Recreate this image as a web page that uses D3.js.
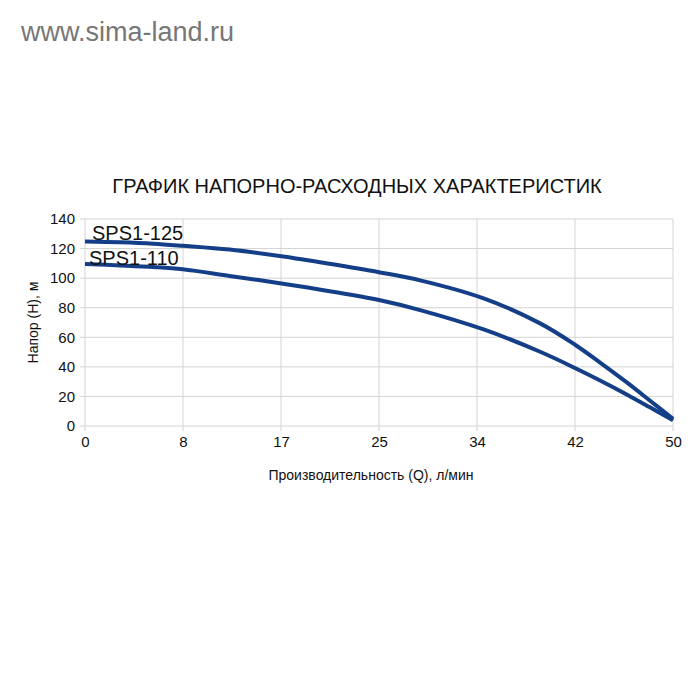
<!DOCTYPE html>
<html><head><meta charset="utf-8">
<script src="https://cdn.jsdelivr.net/npm/d3@7"></script>
<style>body{margin:0;background:#fff}svg{display:block}</style>
</head><body>
<script>
const flow   = [0, 3, 5.8, 8.3, 12.3, 16.7, 20.8, 25, 28.5, 33.9, 38.7, 41.7, 43.8, 46.1, 48, 50];
const sps125 = [124.7, 124.2, 123.3, 121.9, 119.3, 114.8, 109.7, 104, 98.5, 86.3, 69.4, 54.8, 42.9, 29.3, 17.4, 4.8];
const sps110 = [109.6, 108.6, 107.5, 106, 101.5, 96.4, 91.2, 85.2, 78.4, 65.3, 50.2, 39.1, 30.8, 21.2, 12.8, 3.8];
const seriesNames = ["SPS1-125", "SPS1-110"];
const xTickLabels = ["0","8","17","25","34","42","50"];
const yTicks = [0,20,40,60,80,100,120,140];

const W=700,H=700;
const svg=d3.select("body").append("svg").attr("width",W).attr("height",H);
const L=85,R=673,T=219,B=426;
const x=d3.scaleLinear().domain([0,50]).range([L,R]);
const y=d3.scaleLinear().domain([0,140]).range([B,T]);
const font="Liberation Sans, Arial, sans-serif";

svg.append("text").attr("x",21).attr("y",41).attr("font-family",font).attr("font-size",27)
  .attr("fill","#777").text("www.sima-land.ru");
svg.append("text").attr("x",357).attr("y",193).attr("text-anchor","middle").attr("font-family",font)
  .attr("font-size",20).attr("fill","#111").text("ГРАФИК НАПОРНО-РАСХОДНЫХ ХАРАКТЕРИСТИК");

const xTickVals = xTickLabels.map((d,i)=>i*50/(xTickLabels.length-1));
const g=svg.append("g");
g.selectAll("line.h").data(yTicks).join("line").attr("x1",L-5).attr("x2",R)
  .attr("y1",d=>y(d)).attr("y2",d=>y(d)).attr("stroke","#d3d3d3").attr("stroke-width",1);
g.selectAll("line.v").data(xTickVals).join("line").attr("x1",d=>x(d)).attr("x2",d=>x(d))
  .attr("y1",T).attr("y2",B+5).attr("stroke","#d3d3d3").attr("stroke-width",1);

const xAxis=d3.axisBottom(x).tickValues(xTickVals).tickFormat((d,i)=>xTickLabels[i]).tickSize(0).tickPadding(10);
const ax=svg.append("g").attr("transform",`translate(0,${B})`).call(xAxis);
ax.select(".domain").remove();
ax.selectAll("text").attr("font-family",font).attr("font-size",15).attr("fill","#111");
const yAxis=d3.axisLeft(y).tickValues(yTicks).tickSize(0).tickPadding(10);
const ay=svg.append("g").attr("transform",`translate(${L},0)`).call(yAxis);
ay.select(".domain").remove();
ay.selectAll("text").attr("font-family",font).attr("font-size",15).attr("fill","#111");

svg.append("text").attr("transform",`translate(38,${(T+B)/2}) rotate(-90)`).attr("text-anchor","middle")
  .attr("font-family",font).attr("font-size",14).attr("fill","#111").text("Напор (H), м");
svg.append("text").attr("x",371).attr("y",480).attr("text-anchor","middle")
  .attr("font-family",font).attr("font-size",14).attr("fill","#111").text("Производительность (Q), л/мин");

const line=d3.line().x((d,i)=>x(flow[i])).y(d=>y(d)).curve(d3.curveCatmullRom.alpha(0.5));
[sps125,sps110].forEach(s=>{
  svg.append("path").attr("d",line(s)).attr("fill","none").attr("stroke","#143f88").attr("stroke-width",4);
});
svg.append("text").attr("x",92).attr("y",240).attr("font-family",font).attr("font-size",20).attr("fill","#111").text(seriesNames[0]);
svg.append("text").attr("x",89).attr("y",265).attr("font-family",font).attr("font-size",20).attr("fill","#111").text(seriesNames[1]);
</script>
</body></html>
